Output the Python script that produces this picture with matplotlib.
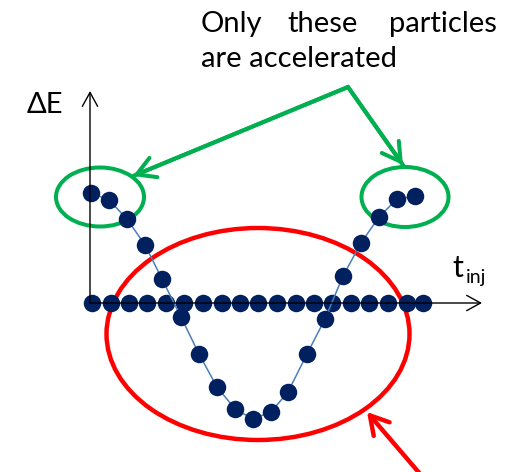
import matplotlib
matplotlib.use('Agg')
import matplotlib.pyplot as plt
from matplotlib.patches import Ellipse

# particles injected at t_inj (along the axis, px-scaled units) and their energy offset
T_ROW = [2, 21, 39, 57, 76, 94, 113, 132, 150, 168, 187, 206, 224, 242, 261, 279, 298, 317, 333]
DE_ROW = [0, 0, 0, 0, 0, 0, 0, 0, 0, 0, 0, 0, 0, 0, 0, 0, 0, 0, 0]
T_CURVE = [1, 19, 37, 55, 72, 91, 109, 127, 145, 163, 181, 198, 217, 235, 253, 271, 289, 307, 325]
DE_CURVE = [110, 103, 84, 58, 24, -14, -51, -84, -106, -116, -109, -89, -51, -16, 27, 60, 86, 104, 107]

NAVY = '#002060'
LINE_BLUE = '#4A7EBB'
GREEN = '#00B050'
RED = '#FF0000'

plt.rcParams['font.family'] = ['Lato', 'DejaVu Sans']

fig = plt.figure(figsize=(5.17, 4.72), dpi=100)
ax = fig.add_axes([0, 0, 1, 1])
ax.set_xlim(-90, 427)
ax.set_ylim(-169, 303)
ax.axis('off')


def arrow(tail, tip, color, lw, hl, hw):
    ax.annotate('', xy=tip, xytext=tail,
                arrowprops=dict(arrowstyle=f'->,head_length={hl},head_width={hw}',
                                color=color, lw=lw, shrinkA=0, shrinkB=0,
                                mutation_scale=10))


# axes arrows
arrow((0, 0), (0, 212), 'black', 1.0, 1.0, 0.55)
arrow((0, 0), (392, 0), 'black', 1.0, 1.0, 0.55)

# particles
ax.plot(T_ROW, DE_ROW, 'o', ms=12.6, color=NAVY, mec='none')
ax.plot(T_CURVE, DE_CURVE, '-', color=LINE_BLUE, lw=1.1)
ax.plot(T_CURVE, DE_CURVE, 'o', ms=12.6, color=NAVY, mec='none')

# highlight ellipses
ax.add_patch(Ellipse((10, 106), 88, 59, fill=False, ec=GREEN, lw=2.9))
ax.add_patch(Ellipse((315, 106), 87, 60, fill=False, ec=GREEN, lw=2.9))
ax.add_patch(Ellipse((168, -31), 303, 212, fill=False, ec=RED, lw=3.2))

# green pointer arrows
ax.plot([43, 258, 313], [127, 216, 138], color=GREEN, lw=2.9, solid_joinstyle='miter')
arrow((258, 216), (43, 127), GREEN, 2.9, 1.3, 0.75)
arrow((258, 216), (313, 138), GREEN, 2.9, 1.3, 0.75)

# red pointer arrow
arrow((331, -172), (277, -109), RED, 3.2, 1.3, 0.75)

# labels
ax.text(-63, 190, '\u0394E', fontsize=21, ha='left', va='baseline')
ax.text(362, 26, 't', fontsize=22, ha='left', va='baseline')
ax.text(376, 20, 'inj', fontsize=14, ha='left', va='baseline')

ax.text(111, 271, 'Only', fontsize=21, ha='left', va='baseline')
ax.text(233, 271, 'these', fontsize=21, ha='center', va='baseline')
ax.text(407, 271, 'particles', fontsize=21, ha='right', va='baseline')
ax.text(111, 236, 'are accelerated', fontsize=21, ha='left', va='baseline')

fig.savefig('out.png', dpi=100)
